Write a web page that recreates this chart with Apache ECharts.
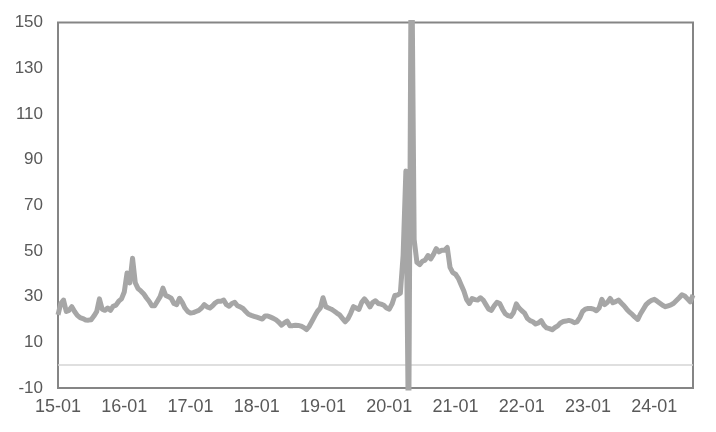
<!DOCTYPE html>
<html>
<head>
<meta charset="utf-8">
<script src="https://cdn.jsdelivr.net/npm/echarts@6/dist/echarts.min.js"></script>
<style>
html,body{margin:0;padding:0;background:#fff;}
#chart{width:716px;height:432px;}
</style>
</head>
<body>
<div id="chart"></div>
<script>
// Semi-monthly observations, 2015-01-01 .. 2024-08-01 (1st and 16th of each month)
var startYear = 2015, startMonth = 1;
var values = [
 22, 27, 28.5, 23.5, 24, 25.6, 23.5, 21.8, 20.8, 20.4, 19.8, 19.7,
 19.9, 21.5, 23.4, 29, 24.5, 24, 25, 24, 25.8, 26.3, 28, 29,
 32, 40.3, 36, 46.8, 36, 33.5, 32.5, 31.3, 29.5, 28, 26, 26,
 28, 30, 33.7, 30.5, 30, 29.3, 27, 26.5, 29.3, 27.5, 25, 23.5,
 22.8, 23, 23.5, 24, 25, 26.5, 25.5, 25, 26, 27.3, 28, 28,
 28.5, 26.5, 25.8, 27, 27.5, 26, 25.5, 24.8, 23.5, 22.3, 21.8, 21.4,
 21, 20.6, 20.2, 21.5, 21.5, 21, 20.5, 19.8, 18.8, 17.5, 18.5, 19.3,
 17.2, 17.3, 17.5, 17.4, 17.1, 16.5, 15.6, 17, 19.2, 21.5, 23.6, 25,
 29.5, 25.6, 25, 24.5, 23.7, 22.8, 22, 20.5, 19, 20.3, 22.7, 25.6,
 25, 24.4, 27.5, 29, 27.5, 25.5, 27.5, 28.2, 27, 26.7, 26.2, 25,
 24.5, 26.8, 30.5, 30.7, 31.5, 48, 85, -40, 200, 55, 45, 44,
 45.5, 46, 48, 46.5, 48.5, 51, 49.6, 50.3, 50.3, 51.5, 42.8, 40.5,
 39.8, 38, 35.2, 32.5, 28.7, 27, 29.2, 28.7, 28.5, 29.5, 28.5, 26.5,
 24.5, 24, 26, 27.5, 27, 24.5, 22.5, 21.7, 21.3, 23, 26.8, 25,
 23.8, 22.8, 20.5, 19.5, 19, 18, 18.5, 19.5, 17.5, 16.3, 16, 15.5,
 16.5, 17.2, 18.5, 19.1, 19.3, 19.6, 19.3, 18.6, 19, 20.8, 23.5, 24.5,
 24.8, 24.8, 24.5, 23.8, 25, 28.8, 26.5, 27.5, 29.2, 27.3, 27.8, 28.5,
 27.2, 26, 24.5, 23.2, 22.2, 21, 20, 22.5, 24.5, 26.5, 27.6, 28.4,
 28.8, 28, 27.1, 26.2, 25.6, 26, 26.4, 27.1, 28.3, 29.5, 30.8, 30.3,
 29, 27.7, 30.7
];
var yTicks = {min: -10, max: 150, interval: 20};

// build date categories
var dates = [];
for (var i = 0; i < values.length; i++) {
  var m = Math.floor(i / 2);
  var y = startYear + Math.floor((startMonth - 1 + m) / 12);
  var mo = ((startMonth - 1 + m) % 12) + 1;
  var d = (i % 2 === 0) ? '01' : '16';
  dates.push(y + '-' + (mo < 10 ? '0' + mo : mo) + '-' + d);
}

var chart = echarts.init(document.getElementById('chart'), null, {renderer: 'canvas'});
var font = 'Liberation Sans';
chart.setOption({
  animation: false,
  backgroundColor: '#ffffff',
  grid: {
    left: 58, right: 23, top: 22.5, bottom: 44,
    show: true, borderColor: '#858585', borderWidth: 2, backgroundColor: 'transparent'
  },
  xAxis: {
    type: 'category',
    data: dates,
    boundaryGap: false,
    axisLine: {show: false},
    axisTick: {show: false},
    splitLine: {show: false},
    axisLabel: {
      interval: function (idx, val) { return val.slice(5) === '01-01'; },
      formatter: function (val) { return val.slice(2, 7); },
      color: '#595959', fontSize: 18, fontFamily: font, margin: 10
    }
  },
  yAxis: {
    type: 'value',
    min: yTicks.min, max: yTicks.max, interval: yTicks.interval,
    axisLine: {show: false},
    axisTick: {show: false},
    splitLine: {show: false},
    axisLabel: {color: '#595959', fontSize: 17, fontFamily: font, margin: 15}
  },
  series: [{
    type: 'line',
    data: values,
    symbol: 'none',
    clip: true,
    lineStyle: {color: '#a6a6a6', width: 5, join: 'round'},
    markLine: {
      silent: true,
      symbol: ['none', 'none'],
      label: {show: false},
      lineStyle: {color: '#d4d4d4', width: 1.5, type: 'solid'},
      data: [{yAxis: 0}],
      z: 1
    }
  }]
});
</script>
</body>
</html>
